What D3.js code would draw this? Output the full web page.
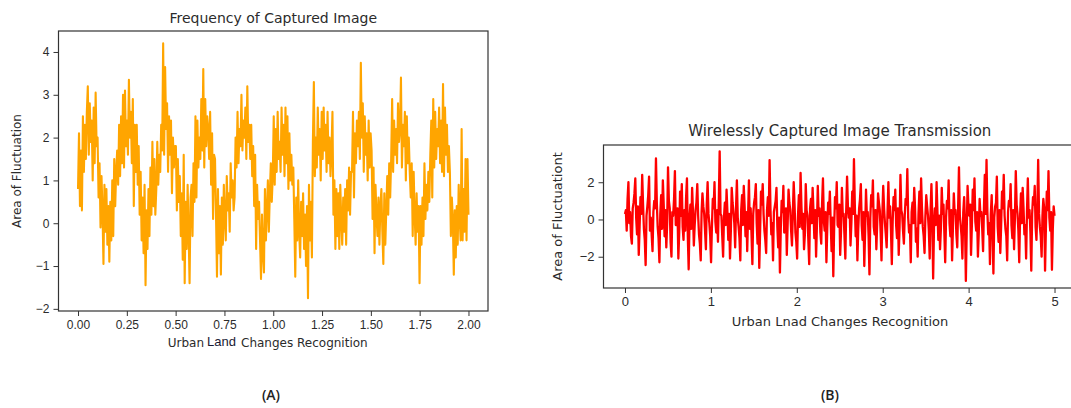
<!DOCTYPE html>
<html>
<head>
<meta charset="utf-8">
<script src="https://cdn.jsdelivr.net/npm/d3@7"></script>
<style>
  body { margin: 0; background: #fff; }
  svg { display: block; font-family: "DejaVu Sans", sans-serif; }
  .tick text { fill: #2b2b2b; }
  .tick line, .domain { stroke: #333; }
</style>
</head>
<body>
<svg id="chart" width="1071" height="408"></svg>
<script>
// panel A : Frequency of Captured Image (400 samples, t from 0 to 2)
const freqValues = [
  0.8, 2.1, 0.4, 1.7, 0.3, 2.5, 1.2, 2.3, 1.5, 2.6, 3.2, 1.6, 2.8, 1.9, 2.4, 1.0, 2.7, 1.4, 3.05, 1.8,
  2.0, 0.6, 1.4, -0.1, 1.1, 0.3, -0.95, 0.9, -0.2, 0.8, -0.5, 0.4, -0.9, 0.5, -0.4, 1.0, -0.3, 1.5, 0.4, 1.2,
  1.7, 0.9, 2.3, 1.1, 2.5, 1.4, 3.0, 1.3, 3.1, 1.8, 2.4, 1.6, 3.35, 2.0, 2.6, 1.4, 2.9, 0.4, 2.3, 1.2,
  2.3, 0.9, 1.8, 0.2, 1.2, -0.4, 0.6, -0.7, 0.9, -1.45, 0.3, -0.6, 0.8, -0.3, 1.3, 0.2, 1.9, 0.4, 1.5, 0.2,
  0.8, 1.9, 0.9, 1.6, 1.2, 2.3, 1.7, 4.2, 1.6, 3.65, 2.2, 2.8, 1.2, 2.5, 1.6, 2.4, 0.7, 2.0, 1.3, 1.8,
  1.8, 0.3, 1.5, 0.5, 1.1, -0.3, 0.7, -0.85, 1.6, -1.4, 0.5, -0.6, 0.9, -0.2, -1.4, 0.6, 0.9, -0.3, 1.4, 0.5,
  2.5, 0.6, 2.4, 1.3, 2.0, 1.5, 2.9, 1.7, 3.6, 1.3, 2.9, 1.8, 2.5, 2.2, 1.5, 2.6, 0.9, 2.1, 0.1, 1.6,
  1.5, 0.2, -1.25, 0.8, -0.7, 0.4, -1.2, 0.6, -0.5, 0.9, 0.1, -0.4, 1.1, 0.3, 0.7, -0.2, 1.4, 0.6, 1.0, 0.3,
  0.6, 2.0, 1.3, 2.6, 1.4, 2.2, 1.8, 3.0, 1.7, 2.4, 2.0, 2.7, 1.5, 3.2, 1.9, 2.3, 1.5, 2.3, 1.1, 1.8,
  0.4, 1.6, -0.6, 0.9, 0.1, 0.5, -0.4, -1.3, 0.2, -0.7, -1.15, 0.8, -0.4, 0.3, 1.0, -0.2, 0.7, 1.4, 0.5, 1.1,
  2.5, 0.9, 2.2, 1.2, 2.6, 1.5, 1.9, 1.2, 2.7, 1.6, 2.3, 1.1, 2.7, 1.4, 2.5, 0.8, 2.1, 1.0, 1.6, 0.9,
  1.3, 0.1, -1.25, 0.6, -0.4, 1.0, -0.2, -0.8, 0.5, -0.3, 0.7, -0.6, 0.2, -1.0, 0.4, -1.75, 0.9, -0.4, 0.5, -0.8,
  1.9, 3.3, 1.1, 2.0, 1.3, 2.7, 1.6, 2.2, 1.0, 2.6, 1.5, 2.7, 1.7, 2.3, 1.2, 2.6, 1.4, 2.0, 1.1, 1.7,
  2.6, 0.2, 1.0, -0.6, 0.8, -0.3, 0.7, -0.6, 0.9, 0.1, -0.5, 0.6, -0.2, 0.8, -0.5, 1.0, 0.3, 1.3, 0.2, 1.2,
  1.2, 2.6, 0.6, 2.1, 1.4, 2.4, 1.8, 2.6, 1.5, 3.75, 2.0, 2.8, 1.2, 2.5, 1.6, 2.1, 1.0, 2.4, 1.3, 2.1,
  1.7, 0.1, 1.3, -0.7, 0.9, 0.2, -0.3, 0.6, -0.5, 0.4, 0.8, -0.2, -0.95, 0.7, -0.5, 0.3, 1.1, 0.2, 1.4, 0.6,
  1.5, 2.9, 1.2, 2.4, 1.6, 2.2, 1.4, 2.8, 1.9, 2.2, 3.4, 1.3, 2.3, 1.8, 2.6, 1.0, 2.5, 1.4, 2.0, 1.2,
  0.6, 1.4, -0.3, 1.2, 0.2, -0.5, 0.7, -0.2, 0.4, -1.4, 0.4, -0.5, 0.6, -0.3, 1.4, 0.1, 0.9, 0.3, 1.2, 0.5,
  1.6, 2.4, 0.6, 2.9, 1.3, 2.6, 1.5, 2.2, 1.8, 2.7, 1.4, 2.4, 1.2, 3.25, 1.1, 2.7, 1.6, 2.3, 1.2, 1.8,
  1.2, -0.3, 0.6, 0.1, -1.2, 0.3, -0.8, 0.4, -0.5, 0.9, 0.1, -0.4, 2.2, -0.4, 0.8, -0.2, 1.5, -0.4, 1.5, 0.2
];
const freqStart = 0, freqEnd = 2;
const freqXTicks = [0, 0.25, 0.5, 0.75, 1, 1.25, 1.5, 1.75, 2];
const freqYTicks = [-2, -1, 0, 1, 2, 3, 4];

// panel B : Wirelessly Captured Image Transmission (500 samples, t from 0 to 5)
const wirelessValues = [
  0.3, 0.5, -0.6, 1.1, 2.0, -0.2, 0.4, -0.9, -1.3, 0.6, 0.9, 1.4, 2.2, 0.1, -0.8, 0.7, -1.9, -0.4, 1.2, 0.3,
  2.4, 0.8, -0.5, -1.1, -2.45, 0.2, 0.7, 1.3, 2.3, -0.6, 0.1, -0.8, -1.7, 0.4, 1.0, 0.6, 3.28, 0.9, -0.4, -1.0,
  -2.3, 0.3, 1.3, -0.5, 2.1, 0.8, -0.9, 0.5, -1.5, -0.2, 2.8, 1.0, 0.6, -1.2, -2.0, 0.4, 0.2, 1.1, 2.6, -0.3,
  -0.3, 0.6, -2.1, -0.7, 1.5, 0.2, 1.9, -0.4, -1.1, 0.5, -0.6, 1.2, 2.2, -0.9, -2.68, 0.1, 0.8, -0.5, 1.7, 0.4,
  -1.4, -0.3, 0.5, 0.9, 1.9, 0.2, -0.8, -1.3, -2.2, 0.4, 1.4, 0.7, 0.3, -0.6, -1.6, 0.8, 2.0, 0.3, -0.2, -0.9,
  -2.3, -0.4, 1.1, 0.6, 2.0, -0.1, -0.7, 0.5, -1.2, 1.0, 3.66, 0.3, 0.2, -0.9, -2.0, 0.1, 0.9, -0.3, 1.6, 0.4,
  -1.1, 0.3, -2.1, -0.6, 1.7, 0.9, 0.4, -0.2, -1.5, 0.6, 2.1, 0.1, -0.4, -1.0, -2.2, 0.5, 1.3, -0.3, 1.8, 0.7,
  -0.9, 0.4, -1.7, 0.2, 2.1, -0.5, 0.6, -0.8, -2.4, 0.3, 0.9, 1.2, 1.9, -0.2, -1.3, 0.5, -2.6, -0.6, 1.5, 0.8,
  1.9, 0.3, -0.6, -1.1, -1.8, 0.5, 1.2, 0.2, 3.19, 0.6, -0.8, -0.2, -2.2, 0.4, 0.7, 1.0, 1.7, -0.4, -1.5, 0.1,
  -2.85, -0.5, 1.0, 0.4, 1.8, -0.7, -0.3, 0.6, -1.9, -0.2, 1.6, 0.9, 0.5, -0.6, -1.4, 0.3, 2.0, 0.8, -0.7, -1.2,
  -2.1, 0.2, 1.3, -0.4, 2.5, 0.7, -0.5, 0.3, -1.6, -0.8, 1.9, 0.5, 0.2, -1.1, -2.4, 0.6, 1.1, -0.2, 1.7, 0.4,
  -1.0, 0.5, -2.0, -0.3, 1.8, 0.2, 0.6, -0.7, -1.3, 0.9, 2.2, -0.1, -0.6, 0.4, -2.3, -0.5, 0.9, 0.3, 1.5, -0.2,
  -1.7, 0.1, -3.05, -0.4, 1.2, 0.6, 2.0, -0.3, -0.4, 0.8, -1.9, -0.6, 1.7, 0.2, 0.3, -0.9, -2.1, 0.5, 2.3, 0.7,
  0.1, 0.6, -1.4, -0.2, 1.5, 0.3, 3.24, 0.8, -0.9, 0.2, -2.2, -0.5, 0.6, 1.1, 1.9, -0.3, -1.1, 0.4, -2.5, -0.6,
  1.6, 0.2, 0.4, -0.9, -2.95, 0.1, 1.3, 0.7, 2.1, -0.4, -0.8, 0.5, -1.6, -0.2, 1.4, 0.9, 0.5, -0.7, -2.2, 0.3,
  1.8, 0.6, -0.2, -0.8, -1.5, 0.4, 2.0, 0.1, 0.7, -0.6, -2.4, -0.1, 1.2, 0.5, 1.6, -0.3, -1.0, 0.6, -1.9, -0.4,
  2.4, 0.5, 0.3, -0.6, -1.3, 0.2, 1.1, 0.8, 2.7, 0.1, -0.7, -0.3, -2.3, 0.4, 0.9, -0.2, 1.7, 0.6, -1.2, -0.5,
  -2.0, 0.3, 1.5, -0.2, 2.2, 0.6, -0.4, -0.9, -1.8, 0.2, 1.3, 0.7, 0.2, -0.6, -2.1, 0.5, 1.9, 0.1, -3.17, -0.4,
  0.6, -0.3, 2.0, 0.4, -1.1, 0.2, -1.6, -0.5, 1.7, 0.3, 0.8, -0.7, -2.3, 0.1, 1.0, 0.6, 2.1, -0.2, -0.9, 0.5,
  -2.2, -0.4, 1.4, 0.3, 0.5, -0.8, -1.5, 0.6, 2.8, 0.2, -0.3, -0.9, -2.1, 0.4, 1.2, -0.2, -3.3, -0.6, 1.8, 0.7,
  0.2, 0.8, -1.9, -0.3, 1.6, 0.5, 2.2, -0.1, -0.6, 0.4, -2.0, -0.7, 1.1, 0.2, 0.4, -0.5, -1.7, 0.6, 2.4, 0.3,
  3.2, 0.4, -0.8, -0.2, -2.4, 0.3, 1.3, -0.6, -2.9, 0.1, 0.7, 0.9, 2.3, -0.4, -1.2, 0.5, -1.8, -0.3, 1.5, 0.6,
  2.4, 0.2, -0.5, -0.9, -2.2, 0.4, 1.0, 0.7, 1.9, -0.3, -1.0, 0.5, -1.6, 0.1, 2.6, 0.8, 0.3, -0.6, -2.3, 0.2,
  1.4, -0.2, 1.7, 0.6, -0.8, -0.3, -2.1, 0.4, 2.2, 0.1, 0.5, -0.7, -2.75, 0.3, 1.2, 0.8, 1.8, -0.4, -1.1, 0.5,
  3.2, 0.3, -0.4, -0.9, -2.0, 0.2, 1.1, 0.6, -2.75, -0.4, 1.5, 0.5, 2.6, 0.1, -0.6, 0.4, -2.7, -0.5, 0.7, 0.2
];
const wirelessStart = 0, wirelessEnd = 5;
const wirelessXTicks = [0, 1, 2, 3, 4, 5];
const wirelessYTicks = [-2, 0, 2];

const svg = d3.select("#chart");

function toPoints(values, start, end) {
  const step = (end - start) / (values.length - 1);
  return values.map((v, i) => ({t: start + i * step, v: v}));
}

function drawPanel(opt) {
  const g = svg.append("g");
  const x = d3.scaleLinear().domain(opt.xDomain).range([opt.left, opt.right]);
  const y = d3.scaleLinear().domain(opt.yDomain).range([opt.bottom, opt.top]);

  const line = d3.line().x(d => x(d.t)).y(d => y(d.v));
  g.append("path")
    .datum(toPoints(opt.values, opt.start, opt.end))
    .attr("d", line)
    .attr("fill", "none")
    .attr("stroke", opt.color)
    .attr("stroke-width", opt.lw)
    .attr("stroke-linejoin", "round");

  // frame
  g.append("rect")
    .attr("x", opt.left).attr("y", opt.top)
    .attr("width", opt.right - opt.left).attr("height", opt.bottom - opt.top)
    .attr("fill", "none").attr("stroke", "#333").attr("stroke-width", 1.2);

  const xa = g.append("g")
    .attr("transform", "translate(0," + opt.bottom + ")")
    .call(d3.axisBottom(x).tickValues(opt.xTicks).tickFormat(d3.format(opt.xFmt))
      .tickSize(5).tickSizeOuter(0).tickPadding(4));
  const ya = g.append("g")
    .attr("transform", "translate(" + opt.left + ",0)")
    .call(d3.axisLeft(y).tickValues(opt.yTicks).tickFormat(d3.format("d"))
      .tickSize(5).tickSizeOuter(0).tickPadding(4));
  [xa, ya].forEach(a => {
    a.select(".domain").remove();
    a.selectAll("text").style("font-size", opt.fs + "px");
  });

  g.append("text")
    .attr("x", (opt.left + opt.right) / 2)
    .attr("y", opt.titleY)
    .attr("text-anchor", "middle")
    .style("font-size", opt.titleFs + "px")
    .attr("fill", "#2b2b2b")
    .text(opt.title);

  g.append("text")
    .attr("transform", "translate(" + opt.ylabelX + "," + ((opt.top + opt.bottom) / 2) + ") rotate(-90)")
    .attr("text-anchor", "middle")
    .style("font-size", opt.fs + "px")
    .attr("fill", "#2b2b2b")
    .text(opt.ylabel);
  return g;
}

const gA = drawPanel({
  values: freqValues, start: freqStart, end: freqEnd, color: "#ffa500", lw: 2.1,
  xDomain: [-0.1, 2.1], yDomain: [-2.05, 4.49],
  left: 58.5, right: 488, top: 31, bottom: 311,
  xTicks: freqXTicks, yTicks: freqYTicks, xFmt: ".2f", fs: 12,
  title: "Frequency of Captured Image", titleY: 23, titleFs: 14,
  ylabel: "Area of Fluctuation", ylabelX: 21
});
// x label of panel A: "Land" is pasted in a different font
gA.append("text").attr("x", 204).attr("y", 347).attr("text-anchor", "end")
  .style("font-size", "12px").attr("fill", "#2b2b2b").text("Urban");
gA.append("text").attr("x", 207).attr("y", 345.5)
  .style("font-family", "'Liberation Sans', Arial, sans-serif").style("font-size", "13px")
  .attr("fill", "#1a1a33").text("Land");
gA.append("text").attr("x", 241).attr("y", 347)
  .style("font-size", "12px").attr("fill", "#2b2b2b").text("Changes Recognition");

const gB = drawPanel({
  values: wirelessValues, start: wirelessStart, end: wirelessEnd, color: "#ff0000", lw: 2.3,
  xDomain: [-0.25, 5.25], yDomain: [-3.68, 4.0],
  left: 603.5, right: 1076, top: 145, bottom: 288,
  xTicks: wirelessXTicks, yTicks: wirelessYTicks, xFmt: "d", fs: 13,
  title: "Wirelessly Captured Image Transmission", titleY: 136, titleFs: 15,
  ylabel: "Area of Fluctuationt", ylabelX: 562
});
gB.append("text").attr("x", 840).attr("y", 326).attr("text-anchor", "middle")
  .style("font-size", "13px").attr("fill", "#2b2b2b").text("Urban Lnad Changes Recognition");

// panel captions
const captions = [{label: "(A)", x: 271}, {label: "(B)", x: 830}];
svg.selectAll("text.cap").data(captions).enter().append("text")
  .attr("class", "cap")
  .attr("x", d => d.x).attr("y", 400)
  .attr("text-anchor", "middle")
  .style("font-family", "'Open Sans', 'Liberation Sans', sans-serif")
  .style("font-size", "14px").style("font-weight", "600")
  .attr("fill", "#222")
  .text(d => d.label);
</script>
</body>
</html>
